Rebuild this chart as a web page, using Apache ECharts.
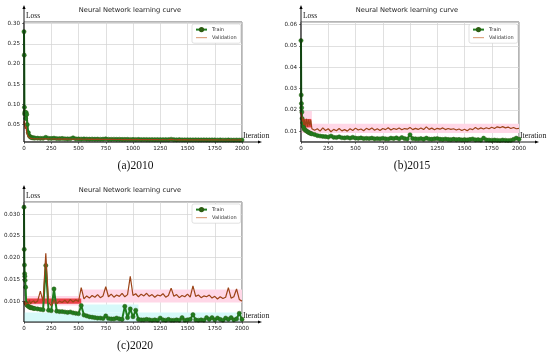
<!DOCTYPE html>
<html><head><meta charset="utf-8">
<script src="https://cdn.jsdelivr.net/npm/echarts@6/dist/echarts.min.js"></script>
<style>html,body{margin:0;padding:0;background:#fff}#c{width:550px;height:356px}</style>
</head><body><div id="c"></div>
<script>
// ---- data ----
const iters = [0,2,4,6,8,10,15,20,25,30,40,50,60,70,80,90,100,
 125,150,175,200,225,250,275,300,325,350,375,400,425,450,475,500,
 525,550,575,600,625,650,675,700,725,750,775,800,825,850,875,900,925,950,975,1000,
 1025,1050,1075,1100,1125,1150,1175,1200,1225,1250,1275,1300,1325,1350,1375,1400,1425,1450,1475,1500,
 1525,1550,1575,1600,1625,1650,1675,1700,1725,1750,1775,1800,1825,1850,1875,1900,1925,1950,1975,2000];
const xTicks = [0,250,500,750,1000,1250,1500,1750,2000];

const trainA = [0.280,0.222,0.093,0.076,0.081,0.079,0.065,0.080,0.075,0.050,0.030,0.022,0.019,0.018,0.0175,0.017,0.0168,
 0.0165,0.016,0.0162,0.0185,0.016,0.0158,0.0165,0.0155,0.0152,0.0158,0.015,0.0148,0.015,0.0172,0.0148,0.0145,
 0.0143,0.0146,0.0142,0.014,0.0143,0.0139,0.0141,0.0138,0.014,0.0148,0.0137,0.0136,0.0138,0.0135,0.0137,0.0134,0.0133,0.0135,0.0132,0.0134,
 0.0131,0.0133,0.013,0.0132,0.0131,0.0129,0.0131,0.0128,0.013,0.0128,0.0127,0.0129,0.0127,0.0138,0.0127,0.0125,0.0127,0.0125,0.0124,0.0126,
 0.0124,0.0123,0.0125,0.0123,0.0122,0.0124,0.0122,0.0121,0.0123,0.0121,0.012,0.0122,0.012,0.0119,0.0121,0.0119,0.0118,0.012,0.0118,0.0119];
const valA = [0.058,0.050,0.060,0.045,0.055,0.040,0.036,0.045,0.030,0.025,0.020,0.017,0.016,0.0155,0.015,0.015,0.0148,
 0.0150,0.0146,0.0151,0.0147,0.0149,0.0144,0.0148,0.0143,0.0146,0.0142,0.0145,0.0141,0.0144,0.0140,0.0143,0.0139,
 0.0142,0.0138,0.0141,0.0137,0.0140,0.0136,0.0139,0.0135,0.0138,0.0134,0.0137,0.0133,0.0136,0.0132,0.0135,0.0131,0.0134,0.0131,0.0133,0.0130,
 0.0133,0.0129,0.0132,0.0128,0.0131,0.0128,0.0130,0.0127,0.0130,0.0126,0.0129,0.0126,0.0128,0.0134,0.0127,0.0125,0.0128,0.0124,0.0127,0.0124,
 0.0126,0.0123,0.0126,0.0122,0.0125,0.0122,0.0124,0.0121,0.0124,0.0121,0.0123,0.0120,0.0123,0.0120,0.0122,0.0119,0.0122,0.0119,0.0121,0.0120];

const trainB = [0.0525,0.027,0.023,0.021,0.019,0.016,0.014,0.0125,0.0118,0.011,0.0105,0.0102,0.0098,0.0095,0.0092,0.009,0.0088,
 0.0085,0.008,0.0078,0.0076,0.0075,0.0073,0.0078,0.0072,0.0071,0.0074,0.007,0.0069,0.0071,0.0068,0.0072,0.0068,
 0.0067,0.0069,0.0066,0.0067,0.0066,0.0068,0.0065,0.0066,0.0065,0.0067,0.0065,0.0064,0.0068,0.0066,0.0069,0.0065,0.0071,0.0066,0.0064,0.0084,
 0.0066,0.0065,0.0064,0.0066,0.0063,0.0068,0.0064,0.0063,0.0065,0.0066,0.0063,0.0062,0.0064,0.0062,0.0061,0.0063,0.0061,0.0062,0.006,0.0061,
 0.006,0.0062,0.0064,0.006,0.0061,0.0059,0.0068,0.006,0.0059,0.0058,0.0059,0.0058,0.0057,0.0059,0.0058,0.0057,0.0058,0.0062,0.0068,0.0063];
const valB = [0.019,0.0175,0.0185,0.016,0.017,0.0155,0.0145,0.016,0.013,0.0155,0.0125,0.0158,0.0122,0.0155,0.0128,0.0152,0.0112,
 0.0105,0.0112,0.0101,0.0116,0.0104,0.0112,0.0098,0.0109,0.0103,0.0113,0.0102,0.0108,0.0101,0.0112,0.0104,0.0115,
 0.0106,0.0111,0.0103,0.0114,0.0107,0.0116,0.0105,0.0112,0.0104,0.0113,0.0108,0.0117,0.0106,0.0113,0.0109,0.0116,0.0107,0.0113,0.0110,0.0118,
 0.0108,0.0114,0.0109,0.0116,0.0108,0.0121,0.0109,0.0115,0.0107,0.0114,0.0110,0.0116,0.0108,0.0113,0.0109,0.0112,0.0106,0.0111,0.0104,0.0110,
 0.0103,0.0112,0.0108,0.0118,0.0110,0.0116,0.0111,0.0117,0.0112,0.0119,0.0113,0.0121,0.0117,0.0122,0.0116,0.0120,0.0113,0.0118,0.0112,0.0114];

const trainC = [0.0316,0.0219,0.0183,0.0163,0.0157,0.0148,0.0132,0.0095,0.0092,0.009,0.0088,0.0086,0.0085,0.0085,0.0084,0.0083,0.0083,
 0.0082,0.0081,0.008,0.0182,0.0079,0.0078,0.0128,0.0077,0.0076,0.0076,0.0075,0.0074,0.0075,0.0073,0.0072,0.0071,
 0.009,0.0068,0.0066,0.0064,0.0063,0.0062,0.0061,0.0061,0.006,0.0066,0.006,0.0059,0.0059,0.0061,0.0059,0.0058,0.0088,0.0062,0.0082,0.0064,
 0.0079,0.0058,0.0057,0.0057,0.0058,0.0057,0.0056,0.0057,0.0056,0.0061,0.0057,0.0056,0.0058,0.0056,0.0056,0.0057,0.0056,0.0062,0.0056,0.0057,
 0.0058,0.0069,0.0057,0.0056,0.0057,0.0056,0.0062,0.0058,0.0062,0.0057,0.0061,0.0058,0.0056,0.0061,0.0058,0.0062,0.0057,0.0059,0.0072,0.0058];
const valC = [0.0095,0.0098,0.0093,0.0100,0.0092,0.0097,0.0090,0.0096,0.0092,0.0099,0.0094,0.0103,0.0093,0.0098,0.0095,0.0101,0.0096,
 0.0100,0.0123,0.0099,0.0210,0.0097,0.0090,0.0103,0.0094,0.0100,0.0097,0.0102,0.0096,0.0104,0.0098,0.0103,0.0099,
 0.0131,0.0105,0.0112,0.0107,0.0113,0.0109,0.0115,0.0108,0.0112,0.0133,0.0110,0.0116,0.0109,0.0114,0.0111,0.0118,0.0110,0.0115,0.0157,0.0113,
 0.0117,0.0110,0.0116,0.0112,0.0118,0.0111,0.0115,0.0109,0.0114,0.0112,0.0117,0.0109,0.0113,0.0130,0.0111,0.0115,0.0108,0.0113,0.0110,0.0116,
 0.0109,0.0135,0.0111,0.0114,0.0108,0.0112,0.0110,0.0114,0.0107,0.0111,0.0105,0.0110,0.0106,0.0109,0.0131,0.0107,0.0110,0.0128,0.0104,0.0100];

// shaded regions [x1, y1, x2, y2] in data units
const pinkBandsA = [[12,0.035,42,0.062]];
const redBandsA  = [[18,0.04,38,0.055]];
const pinkBandsB = [[0,0.0092,2000,0.0135],[0,0.0155,100,0.0195]];
const redBandsB  = [[20,0.0118,95,0.0158]];
const pinkBandsC = [[0,0.0090,525,0.0112],[525,0.0097,2000,0.0127]];
const redBandsC  = [[20,0.0094,525,0.0106]];
const cyanBandsC = [[0,0.0052,2000,0.0074],[525,0.0074,1050,0.0092]];

const legendNames = ['Train','Validation'];
const titleText = 'Neural Network learning curve';

// ---- layout ----
const panels = [
 {L:24,T:22,W:218,H:120,min:0.007,max:0.304,step:0.05,dec:2,train:trainA,val:valA,cap:'(a)2010',capX:135.5,capY:166,tX:130,tY:10,pink:pinkBandsA,red:redBandsA,cyan:[]},
 {L:301,T:22,W:218,H:120,min:0.005,max:0.0612,step:0.01,dec:2,train:trainB,val:valB,cap:'(b)2015',capX:412,capY:166,tX:407,tY:10,pink:pinkBandsB,red:redBandsB,cyan:[]},
 {L:24,T:202,W:218,H:120,min:0.0052,max:0.0328,step:0.005,dec:3,train:trainC,val:valC,cap:'(c)2020',capX:135,capY:346,tX:130,tY:190,pink:pinkBandsC,red:redBandsC,cyan:cyanBandsC}
];

const GREEN='#1f7d1f', BROWN='#9c4418', RED='rgba(232,38,42,0.85)', PINK='#ffd7e7', CYAN='#d6f9f9';
const tickFont = {fontSize:5.6, fontFamily:'DejaVu Sans', color:'#222'};

const grids=[], xAxes=[], yAxes=[], series=[], legends=[], graphics=[];
panels.forEach((p,i)=>{
  grids.push({left:p.L, top:p.T, width:p.W, height:p.H, show:true, borderColor:'#444', borderWidth:0.8, backgroundColor:'#fff', containLabel:false, outerBoundsMode:'none'});
  xAxes.push({type:'value', gridIndex:i, min:xTicks[0], max:xTicks[xTicks.length-1], interval:xTicks[1]-xTicks[0],
    axisLine:{show:false}, axisTick:{show:true,length:2,lineStyle:{color:'#333',width:0.6}},
    axisLabel:Object.assign({margin:4, formatter:v=>String(v)},tickFont),
    splitLine:{show:true,lineStyle:{color:'#d2d2d2',width:0.7}}});
  yAxes.push({type:'value', gridIndex:i, min:p.min, max:p.max, splitNumber:6, minInterval:p.step, maxInterval:p.step,
    axisLine:{show:false}, axisTick:{show:true,length:2,lineStyle:{color:'#333',width:0.6}},
    axisLabel:Object.assign({margin:4, showMinLabel:false, showMaxLabel:false, formatter:v=>v.toFixed(p.dec)},tickFont),
    splitLine:{show:true,lineStyle:{color:'#d2d2d2',width:0.7}}});
  const area = (arr,color)=>arr.map(b=>[{coord:[b[0],b[1]],itemStyle:{color:color}},{coord:[b[2],b[3]]}]);
  series.push({type:'line', name:'_bands'+i, xAxisIndex:i, yAxisIndex:i, data:[], silent:true, z:1,
    markArea:{silent:true, label:{show:false}, data:[].concat(area(p.pink,PINK),area(p.cyan,CYAN),area(p.red,RED))}});
  const tr = iters.map((x,k)=>[x,p.train[k]]);
  const va = iters.map((x,k)=>[x,p.val[k]]);
  series.push({type:'line', name:'Train', xAxisIndex:i, yAxisIndex:i, data:tr, symbol:'circle', symbolSize:4.2,
    showSymbol:true, showAllSymbol:true, lineStyle:{color:GREEN,width:2}, itemStyle:{color:GREEN,borderColor:'#2f5c12',borderWidth:0.5},
    z:3, animation:false, silent:true});
  series.push({type:'line', name:'Validation', xAxisIndex:i, yAxisIndex:i, data:va, symbol:'none', showSymbol:false,
    lineStyle:{color:BROWN,width:1.2}, itemStyle:{color:BROWN}, z:4, animation:false, silent:true});
  legends.push({show:true, left:p.L+168, top:p.T+2, orient:'vertical',
    data:[{name:legendNames[0]},{name:legendNames[1], icon:'path://M0,0L12,0L12,1L0,1Z', itemStyle:{color:'#d4895a'}}],
    itemWidth:11, itemHeight:4, itemGap:3,
    padding:[3,4,3,3], backgroundColor:'#fff', borderColor:'#cccccc', borderWidth:0.6, borderRadius:2, selectedMode:false,
    textStyle:{fontSize:5, fontFamily:'DejaVu Sans', color:'#333'}});
  const R=p.L+p.W, B=p.T+p.H;
  graphics.push({type:'text', x:p.tX, y:p.tY, style:{text:titleText, align:'center', verticalAlign:'middle', font:'6.7px "DejaVu Sans"', fill:'#222'}});
  graphics.push({type:'text', x:p.capX, y:p.capY, style:{text:p.cap, align:'center', verticalAlign:'middle', font:'11.5px "Liberation Serif"', fill:'#111'}});
  graphics.push({type:'text', x:p.L+2, y:p.T-6, style:{text:'Loss', align:'left', verticalAlign:'middle', font:'7.5px "Liberation Serif"', fill:'#111'}});
  graphics.push({type:'text', x:R+1, y:B-6, style:{text:'Iteration', align:'left', verticalAlign:'middle', font:'7.8px "Liberation Serif"', fill:'#111'}});
  graphics.push({type:'line', z:100, shape:{x1:p.L,y1:B,x2:p.L,y2:p.T-14}, style:{stroke:'#000',lineWidth:0.9}});
  graphics.push({type:'polygon', z:100, shape:{points:[[p.L,p.T-17],[p.L-1.6,p.T-13],[p.L+1.6,p.T-13]]}, style:{fill:'#000'}});
  graphics.push({type:'line', z:100, shape:{x1:p.L,y1:B,x2:R+17,y2:B}, style:{stroke:'#000',lineWidth:0.9}});
  graphics.push({type:'polygon', z:100, shape:{points:[[R+20,B],[R+16,B-1.6],[R+16,B+1.6]]}, style:{fill:'#000'}});
});

const chart = echarts.init(document.getElementById('c'), null, {renderer:'canvas'});
chart.setOption({
  animation:false, backgroundColor:'#fff',
  grid:grids, xAxis:xAxes, yAxis:yAxes, legend:legends, series:series, graphic:{elements:graphics}
});
</script></body></html>
